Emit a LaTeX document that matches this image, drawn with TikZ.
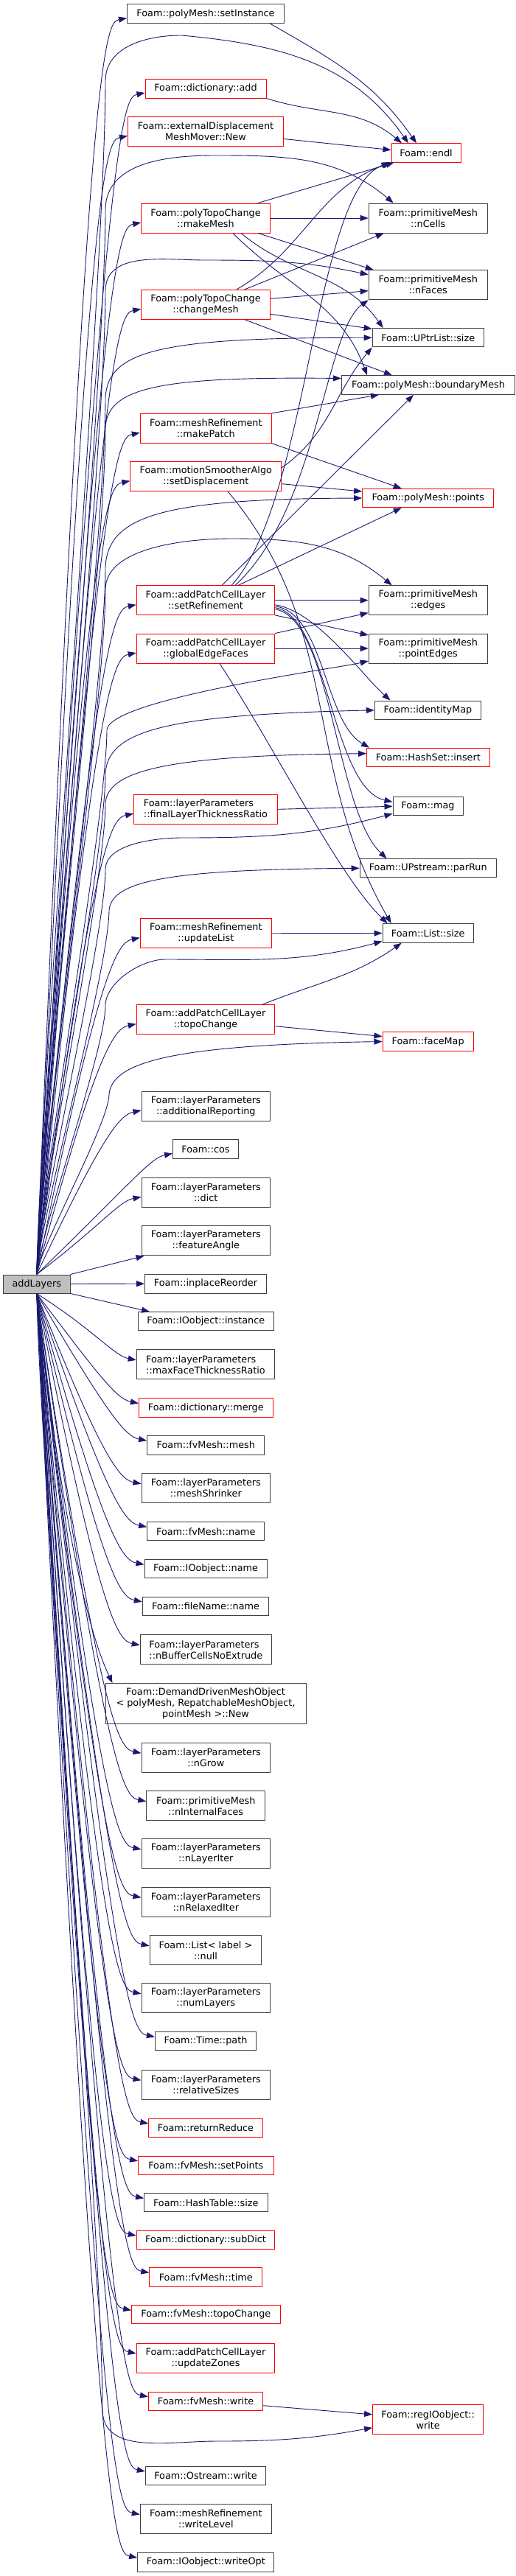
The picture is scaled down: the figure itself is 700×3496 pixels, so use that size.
\documentclass[tikz,border=0pt]{standalone}
\usepackage{fontspec}
\setmainfont{DejaVu Sans}
\usepackage{xcolor}
\usepackage{tikz}
\usetikzlibrary{arrows.meta}
\usetikzlibrary{calc}
\definecolor{edgeblue}{HTML}{191970}
\definecolor{boxgray}{HTML}{404040}
\tikzstyle{fnbox}=[rectangle,draw=boxgray,fill=white,line width=1pt,align=center,inner sep=0pt,font=\fontsize{12.8}{15}\selectfont]
\tikzstyle{fnboxred}=[fnbox,draw=red]
\tikzstyle{rootbox}=[fnbox,fill=black!25]
\tikzstyle{calledge}=[draw,edgeblue,line width=0.9pt,-{Triangle[length=11pt,width=8pt]}]

\begin{document}
\begin{tikzpicture}[x=1pt,y=-1pt]

 \useasboundingbox (0,0) rectangle (700,3496);

 %root
 \node[rootbox,minimum width=90.6pt,minimum height=25pt] (root) at (49.8,1742.5) {addLayers};

 %left column, black
   \foreach \x/\y/\w/\h/\name/\label in {279/18.5/213/25.6/setInstance/{Foam::polyMesh::setInstance},
     279.3/1501/174.5/40/addRep/{Foam::layerParameters\\::additionalReporting},
     279/1559.5/89/25.6/cosFn/{Foam::cos},
     279.3/1618.3/174.5/40/dictFn/{Foam::layerParameters\\::dict},
     279.3/1683.7/174.5/40.5/featAngle/{Foam::layerParameters\\::featureAngle},
     279/1742.2/165/25.6/inplace/{Foam::inplaceReorder},
     279.3/1793.3/183.5/25.3/instance/{Foam::IOobject::instance},
     279.3/1961.2/159.3/25.6/fvMeshMesh/{Foam::fvMesh::mesh},
     279.3/2019.7/174.5/40.5/shrinker/{Foam::layerParameters\\::meshShrinker},
     279.3/2078.3/159.3/25.3/fvMeshName/{Foam::fvMesh::name},
     279/2129.3/166/25.3/ioName/{Foam::IOobject::name},
     279/2179.8/171.4/25.6/fileName/{Foam::fileName::name},
     279/2312/272/54.7/ddmoNew/{Foam::DemandDrivenMeshObject\\< polyMesh, RepatchableMeshObject,\\pointMesh >::New},
     279.3/2385.2/174.5/40.3/nGrow/{Foam::layerParameters\\::nGrow},
     279.3/2450.7/161/40/nIntFaces/{Foam::primitiveMesh\\::nInternalFaces},
     279.3/2515.8/174.5/40.3/nLayerIter/{Foam::layerParameters\\::nLayerIter},
     279.3/2581.2/174.5/40.3/nRelaxed/{Foam::layerParameters\\::nRelaxedIter},
     279/2646.7/151.7/40/listNull/{Foam::List< label >\\::null},
     279.3/2711.8/174.5/40.3/numLayers/{Foam::layerParameters\\::numLayers},
     279/2770.3/137.3/25.3/timePath/{Foam::Time::path},
     279.3/2829.2/174.5/40.3/relSizes/{Foam::layerParameters\\::relativeSizes},
     279.3/2989.3/167.4/25.3/htSize/{Foam::HashTable::size},
     279/3360/163.3/25.3/osWrite/{Foam::Ostream::write},
     279.3/3418.5/178/40.3/writeLevel/{Foam::meshRefinement\\::writeLevel},
     279.3/3477.2/185.3/25.7/writeOpt/{Foam::IOobject::writeOpt}}
          \node[fnbox,minimum width=\w pt,minimum height=\h pt] (\name) at (\x,\y) {\label};

  \node[fnbox,align=left,minimum width=187.5pt,minimum height=40.3pt] (maxFTR) at (279,1851.8) {Foam::layerParameters\\::maxFaceThicknessRatio};
  \node[fnbox,align=left,minimum width=178pt,minimum height=40pt] (nBuffer) at (279.3,2238.7) {Foam::layerParameters\\::nBufferCellsNoExtrude};

 %left column, red
   \foreach \x/\y/\w/\h/\name/\label in {279/120/164/26/dictAdd/{Foam::dictionary::add},
     279/178.5/211/40/extNew/{Foam::externalDisplacement\\MeshMover::New},
     279/296/174.5/40/makeMesh/{Foam::polyTopoChange\\::makeMesh},
     279/413.3/174.5/40/changeMesh/{Foam::polyTopoChange\\::changeMesh},
     279.3/581.3/178/40/makePatch/{Foam::meshRefinement\\::makePatch},
     279.3/646.7/205/40/setDisp/{Foam::motionSmootherAlgo\\::setDisplacement},
     279/814.7/187.5/39.5/setRef/{Foam::addPatchCellLayer\\::setRefinement},
     279/880/187.5/40/globalEF/{Foam::addPatchCellLayer\\::globalEdgeFaces},
     279.3/1266.7/178/40/updateList/{Foam::meshRefinement\\::updateList},
     279/1383.7/187.5/40/apclTopo/{Foam::addPatchCellLayer\\::topoChange},
     279.3/1910.5/181.7/25.6/merge/{Foam::dictionary::merge},
     279/2888/154.3/25.3/returnReduce/{Foam::returnReduce},
     279.3/2938.7/183.5/25.3/setPoints/{Foam::fvMesh::setPoints},
     279/3040/187.5/25.3/subDict/{Foam::dictionary::subDict},
     279.3/3090.5/153/25.6/fvTime/{Foam::fvMesh::time},
     279.3/3141.3/201.4/25.3/fvTopo/{Foam::fvMesh::topoChange},
     279/3200/187.5/40/updateZones/{Foam::addPatchCellLayer\\::updateZones},
     279/3258.7/155.3/25.3/fvWrite/{Foam::fvMesh::write}}
          \node[fnboxred,minimum width=\w pt,minimum height=\h pt] (\name) at (\x,\y) {\label};

  \node[fnboxred,align=left,minimum width=194.7pt,minimum height=40pt] (finalLTR) at (279,1098.3) {Foam::layerParameters\\::finalLayerThicknessRatio};

 %right column
   \foreach \x/\y/\w/\h/\name/\label in {580.7/296/161/40/nCells/{Foam::primitiveMesh\\::nCells},
     580.7/386.7/161/40/nFaces/{Foam::primitiveMesh\\::nFaces},
     580.7/458.3/151/25.3/uptrSize/{Foam::UPtrList::size},
     581/522.5/235/25.6/bMesh/{Foam::polyMesh::boundaryMesh},
     580.7/814.7/161/39.5/edges/{Foam::primitiveMesh\\::edges},
     580.7/880/161/40/pointEdges/{Foam::primitiveMesh\\::pointEdges},
     580.5/963.8/144.5/25.6/identityMap/{Foam::identityMap},
     580.5/1094.3/95/25.3/mag/{Foam::mag},
     580.7/1178.3/185.3/25.3/parRun/{Foam::UPstream::parRun},
     580.7/1266.5/123.4/25.6/listSize/{Foam::List::size}}
          \node[fnbox,minimum width=\w pt,minimum height=\h pt] (\name) at (\x,\y) {\label};

   \foreach \x/\y/\w/\h/\name/\label in {578/207.5/94/25.3/endl/{Foam::endl},
     580.7/676/178/25.3/points/{Foam::polyMesh::points},
     580.8/1027.7/166.5/25.3/hsInsert/{Foam::HashSet::insert},
     580.7/1413.5/123.4/25.6/faceMap/{Foam::faceMap},
     580.7/3283.8/150.3/40.3/regWrite/{Foam::regIOobject::\\write}}
          \node[fnboxred,minimum width=\w pt,minimum height=\h pt] (\name) at (\x,\y) {\label};

 %root to left column
  \foreach \dest in {setInstance,dictAdd,extNew,makeMesh,changeMesh,makePatch,setDisp,setRef,globalEF,finalLTR,updateList,apclTopo,addRep,cosFn,dictFn}
         \path[calledge] (root.north) .. controls ($(\dest.west)+(-55,45)$) and ($(\dest.west)+(-30,12)$) .. ($(\dest.west)+(0,6)$);

  \foreach \dest in {maxFTR,merge,fvMeshMesh,shrinker,fvMeshName,ioName,fileName,nBuffer,nGrow,nIntFaces,nLayerIter,nRelaxed,listNull,numLayers,timePath,relSizes,returnReduce,setPoints,htSize,subDict,fvTime,fvTopo,updateZones,fvWrite,osWrite,writeLevel,writeOpt}
         \path[calledge] (root.south) .. controls ($(\dest.west)+(-55,-45)$) and ($(\dest.west)+(-30,-12)$) .. ($(\dest.west)+(0,-6)$);

  \path[calledge] (root.north east) -- ([xshift=4pt]featAngle.south west);
  \path[calledge] (root.east) -- (inplace.west);
  \path[calledge] (root.south east) -- ([xshift=16pt]instance.north west);
  \path[calledge] (root.south) .. controls +(13,126) and +(-54,-115) .. ([xshift=10pt]ddmoNew.north west);

 %root to right column
  \path[calledge] (root.north) .. controls +(5,-259) and +(0,259) .. (143,110) .. controls +(0,-47) and +(-47,0) .. (246,48) .. controls +(133,12) and +(-76,-109) .. ([xshift=-24pt]endl.north);
  \path[calledge] (root.north) .. controls +(5,-231) and +(0,231) .. (143,285) .. controls +(0,-65) and +(-65,0) .. (292,211) .. controls +(98,0) and +(-75,-63) .. ([xshift=-47pt]nCells.north);
  \path[calledge] (root.north) .. controls +(5,-214) and +(0,214) .. (143,395) .. controls +(0,-55) and +(-55,0) .. (278,353) .. controls +(87,0) and +(-85,-18) .. ([yshift=14pt]nFaces.west);
  \path[calledge] (root.north) .. controls +(5,-191) and +(0,191) .. (143,540) .. controls (146,475) and (220,458) .. (uptrSize.west);
  \path[calledge] (root.north) .. controls +(5,-184) and +(0,184) .. (143,580) .. controls (146,525) and (220,511) .. ([yshift=9pt]bMesh.west);
  \path[calledge] (root.north) .. controls +(5,-154) and +(0,154) .. (143,770) .. controls (146,700) and (220,677) .. (points.west);
  \path[calledge] (root.north) .. controls +(5,-149) and +(0,149) .. (143,800) .. controls +(0,-58) and +(-58,0) .. (314,731) .. controls +(89,0) and +(-68,-57) .. ([xshift=-49pt]edges.north);
  \path[calledge] (root.north) .. controls +(5,-118) and +(0,118) .. (145,990) .. controls +(7,-42) and +(-42,10) .. ([yshift=-17pt]pointEdges.west);
  \path[calledge] (root.north) .. controls +(5,-109) and +(0,109) .. (143,1050) .. controls (146,990) and (230,970) .. (identityMap.west);
  \path[calledge] (root.north) .. controls +(5,-102) and +(0,102) .. (143,1090) .. controls (146,1045) and (230,1025) .. ([yshift=5pt]hsInsert.west);
  \path[calledge] (root.north) .. controls +(5,-88) and +(0,88) .. (143,1180) .. controls +(0,-35) and +(-35,0) .. (247,1137) .. controls +(113,0) and +(-109,29) .. ([yshift=-10pt]mag.west);
  \path[calledge] (root.north) .. controls +(5,-79) and +(0,79) .. (148,1235) .. controls (152,1195) and (230,1180) .. (parRun.west);
  \path[calledge] (root.north) .. controls +(5,-58) and +(0,58) .. (143,1365) .. controls +(0,-32) and +(-32,0) .. (224,1302) .. controls +(116,0) and +(-112,30) .. ([yshift=-11pt]listSize.west);
  \path[calledge] (root.north) .. controls +(5,-39) and +(0,39) .. (148,1485) .. controls (152,1440) and (240,1418) .. (faceMap.west);
  \path[calledge] (root.south) .. controls +(5,242) and +(0,-242) .. (139,3270) .. controls +(0,62) and +(-62,0) .. (292,3313) .. controls +(84,0) and +(-83,15) .. ([yshift=-11pt]regWrite.west);

 %left column to right column
  \path[calledge] ([xshift=-20pt]setInstance.south east) .. controls +(87,50) and +(-58,-83) .. ([xshift=-13pt]endl.north);
  \path[calledge] (dictAdd.south east) .. controls +(72,23) and +(-58,-49) .. ([xshift=-33pt]endl.north);
  \path[calledge] ([yshift=-10pt]extNew.east) -- ([yshift=4pt]endl.west);

  \path[calledge] ([xshift=71pt]makeMesh.north) -- ([xshift=4pt]endl.south west);
  \path[calledge] (makeMesh.east) -- (nCells.west);
  \path[calledge] ([xshift=71pt]makeMesh.south) -- ([xshift=-74pt]nFaces.north);
  \path[calledge] ([xshift=48pt]makeMesh.south) .. controls +(70,58) and +(-52,-74) .. ([xshift=-61pt]uptrSize.north);
  \path[calledge] ([xshift=37pt]makeMesh.south) .. controls +(73,73) and +(-36,-98) .. ([xshift=-83pt]bMesh.north);

  \path[calledge] ([xshift=42pt]changeMesh.north) .. controls +(92,-53) and +(-100,36) .. (endl.south west);
  \path[calledge] ([xshift=53pt]changeMesh.north) -- ([xshift=-60pt]nCells.south);
  \path[calledge] ([yshift=8pt]changeMesh.east) -- ([yshift=-8pt]nFaces.west);
  \path[calledge] ([yshift=-13pt]changeMesh.east) -- ([yshift=12pt]uptrSize.west);
  \path[calledge] ([xshift=53pt]changeMesh.south) -- ([xshift=-49pt]bMesh.north);

  \path[calledge] (makePatch.north east) -- ([xshift=-67pt]bMesh.south);
  \path[calledge] (makePatch.south east) -- ([xshift=-36pt]points.north);

  \path[calledge] ([yshift=12pt]setDisp.east) .. controls +(65,-46) and +(-51,61) .. (uptrSize.south west);
  \path[calledge] ([yshift=-10pt]setDisp.east) -- ([yshift=9pt]points.west);
  \path[calledge] ([xshift=30pt]setDisp.south) .. controls +(157,188) and +(-122,-212) .. ([xshift=-50pt]listSize.north);

  \path[calledge] ([xshift=35pt]setRef.north) .. controls (420,680) and (425,260) .. ([xshift=-2pt]endl.south west);
  \path[calledge] ([xshift=40pt]setRef.north) .. controls (432,690) and (440,450) .. (nFaces.south west);
  \path[calledge] ([xshift=22pt]setRef.north) -- ([xshift=-20pt]bMesh.south);
  \path[calledge] ([xshift=44pt]setRef.north) -- ([xshift=-36pt]points.south);
  \path[calledge] (setRef.east) -- (edges.west);
  \path[calledge] (setRef.south east) -- ([yshift=18pt]pointEdges.west);
  \path[calledge] ([yshift=-6pt]setRef.east) .. controls (430,830) and (490,915) .. ([xshift=-51pt]identityMap.north);
  \path[calledge] ([yshift=-8pt]setRef.east) .. controls (440,832) and (440,980) .. ([xshift=4pt]hsInsert.north west);
  \path[calledge] ([yshift=-10pt]setRef.east) .. controls (445,835) and (450,1070) .. ([yshift=6pt]mag.west);
  \path[calledge] ([yshift=-12pt]setRef.east) .. controls (450,840) and (455,1100) .. ([xshift=-56pt]parRun.north);

  \path[calledge] (globalEF.north east) -- ([yshift=-17pt]edges.west);
  \path[calledge] (globalEF.east) -- (pointEdges.west);
  \path[calledge] ([xshift=19pt]globalEF.south) .. controls (370,1010) and (460,1190) .. ([xshift=-55pt]listSize.north);

  \path[calledge] (finalLTR.east) -- (mag.west);
  \path[calledge] (updateList.east) -- (listSize.west);
  \path[calledge] ([xshift=77pt]apclTopo.north) .. controls +(75,-30) and +(-66,46) .. ([xshift=-36pt]listSize.south);
  \path[calledge] ([yshift=-9pt]apclTopo.east) -- ([yshift=7pt]faceMap.west);
  \path[calledge] ([yshift=-6pt]fvWrite.east) -- ([yshift=7pt]regWrite.west);

\end{tikzpicture}
\end{document}
